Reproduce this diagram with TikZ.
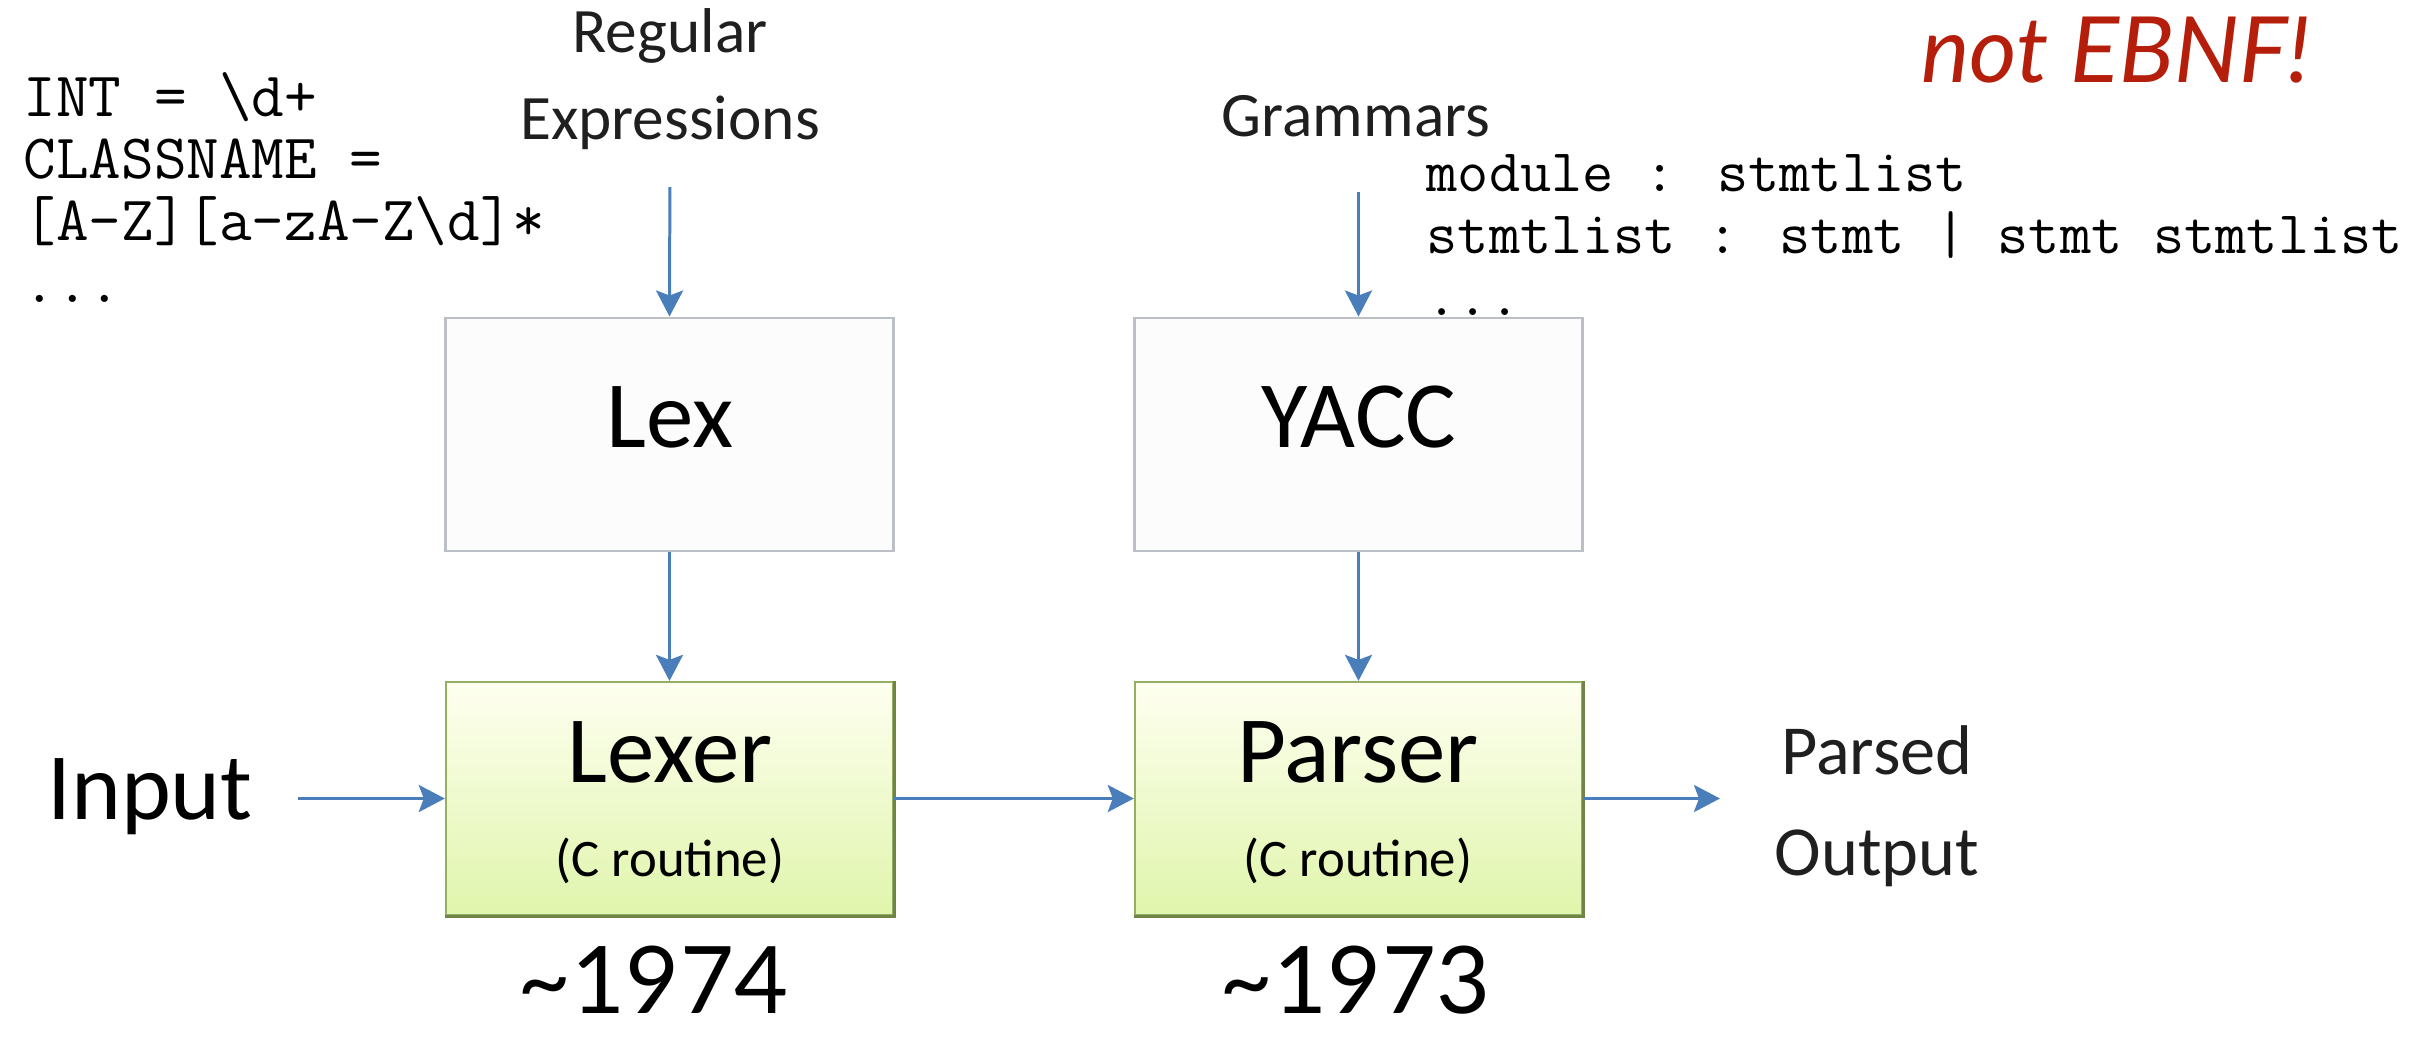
\documentclass[tikz,border=0pt]{standalone}
\usepackage{fontspec}
\setmainfont{Carlito}
\newfontfamily\yearfont{Lato}
\usetikzlibrary{arrows.meta}

\definecolor{flowblue}{HTML}{4A7EBB}
\definecolor{plainedge}{HTML}{BCC0C6}
\definecolor{plainfill}{HTML}{FCFCFD}
\definecolor{greenedge}{HTML}{94AE62}
\definecolor{greenshade}{HTML}{6F8446}
\definecolor{greentop}{HTML}{FEFFF0}
\definecolor{greenbot}{HTML}{E0F5AC}
\definecolor{notered}{HTML}{B41E0A}

\tikzset{
  toolbox/.style={draw=plainedge, line width=0.8pt, fill=plainfill,
    minimum width=4.47cm, minimum height=2.33cm, inner sep=0pt},
  routinebox/.style={draw=greenedge, line width=0.6pt,
    top color=greentop, bottom color=greenbot,
    minimum width=4.47cm, minimum height=2.33cm, inner sep=0pt},
  boxshade/.style={draw=greenshade, line width=0.9pt},
  bigtext/.style={inner sep=0pt, font=\fontsize{27}{32}\selectfont},
  smalltext/.style={inner sep=0pt, font=\fontsize{15}{18}\selectfont},
  sidetext/.style={inner sep=0pt, align=center, text=black!88},
  code/.style={inner sep=0pt, align=left, anchor=north west},
  yeartext/.style={inner sep=0pt, font=\yearfont\fontsize{26.5}{31}\selectfont},
  flow/.style={draw=flowblue, line width=0.85pt,
    -{Stealth[length=0.26cm, width=0.27cm, inset=0.05cm]}},
}

\begin{document}
\begin{tikzpicture}[x=0.01cm, y=-0.01cm]
  \useasboundingbox (0,0) rectangle (2435,1039);

  % generator tools
  \node[toolbox] (lex)  at (669.5,434.5)  {};
  \node[toolbox] (yacc) at (1358.5,434.5) {};
  \node[bigtext, anchor=base] (lexname)  at (670,447)  {Lex};
  \node[bigtext, anchor=base] (yaccname) at (1359,447) {YACC};

  % generated routines
  \node[routinebox] (lexer)  at (669.5,798.5)  {};
  \node[routinebox] (parser) at (1358.5,798.5) {};
  \foreach \b in {lexer,parser}
    \draw[boxshade] (\b.north east) -- (\b.south east) -- (\b.south west);
  \node[bigtext, anchor=base] (lexername)  at (670,782)  {Lexer};
  \node[bigtext, anchor=base] (parsername) at (1358,782) {Parser};
  \node[smalltext, anchor=base] (lexernote)  at (670,876)  {(C routine)};
  \node[smalltext, anchor=base] (parsernote) at (1358,876) {(C routine)};

  % inputs of the generators
  \node[sidetext, font=\fontsize{18}{24.7}\selectfont] (regex) at (670,79)
    {Regular\\Expressions};
  \node[sidetext, font=\fontsize{18}{24.7}\selectfont] (gram) at (1356,116)
    {Grammars};

  % pipeline ends
  \node[bigtext] (input) at (150,797) {Input};
  \node[sidetext, font=\fontsize{20}{28.7}\selectfont] (output) at (1877,806)
    {Parsed\\Output};

  % sample specifications
  \node[code, font=\ttfamily\fontsize{18}{17.6}\selectfont] (tokens) at (23,72)
    {INT = \textbackslash d+\\
     CLASSNAME =\\
     {[}A-Z{]}{[}a-zA-Z\textbackslash d{]}*\\
     ...};
  \node[code, font=\ttfamily\fontsize{17.2}{17.6}\selectfont] (rules) at (1426,154)
    {module : stmtlist\\
     stmtlist : stmt | stmt stmtlist\\
     ...};

  \node[inner sep=0pt, text=notered,
        font=\yearfont\itshape\fontsize{26}{31}\selectfont] (note) at (2116,50)
    {not EBNF!};

  % years of appearance
  \node[yeartext, anchor=base] (lexyear)  at (653,1013) {\textasciitilde 1974};
  \node[yeartext, anchor=base] (yaccyear) at (1355,1013) {\textasciitilde 1973};

  % connectors
  \draw[flow, shorten <=0.37cm] (regex.south) -- (lex.north);
  \draw[flow] (gram.south -| yacc.north) ++(0,55) -- (yacc.north);
  \draw[flow] (lex.south) -- (lexer.north);
  \draw[flow] (yacc.south) -- (parser.north);
  \draw[flow, shorten <=0.45cm] (input.east |- lexer.west) -- (lexer.west);
  \draw[flow] (lexer.east) -- (parser.west);
  \draw[flow, shorten >=0.54cm] (parser.east) -- (parser.east -| output.west);
\end{tikzpicture}
\end{document}
